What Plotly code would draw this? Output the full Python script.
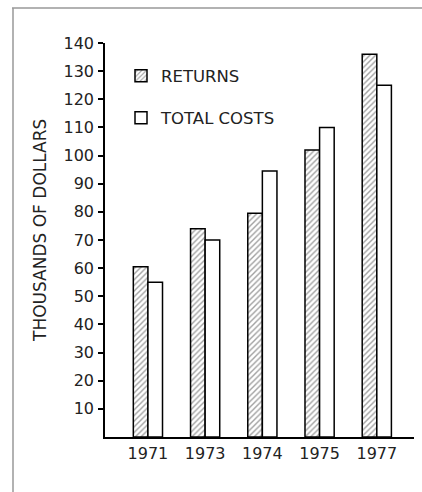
import plotly.graph_objects as go

years = ["1971", "1973", "1974", "1975", "1977"]
returns = [60.5, 74, 79.5, 102, 136]
total_costs = [55, 70, 94.5, 110, 125]
y_ticks = [10, 20, 30, 40, 50, 60, 70, 80, 90, 100, 110, 120, 130, 140]

FONT = "DejaVu Sans"
W, H = 422, 492
L, R, T, B = 105, 8, 43, 55

fig = go.Figure()
fig.add_trace(go.Bar(
    x=years, y=returns, name="RETURNS", legend="legend",
    marker=dict(color="white", line=dict(color="black", width=1.5),
                pattern=dict(shape="/", fgcolor="#444", bgcolor="white", size=4, solidity=0.35)),
))
fig.add_trace(go.Bar(
    x=years, y=total_costs, name="TOTAL COSTS", legend="legend2",
    marker=dict(color="white", line=dict(color="black", width=1.5)),
))

pw = W - L - R
ph = H - T - B
def px_x(p):
    return (p - L) / pw
def px_y(p):
    return (H - B - p) / ph

fig.update_layout(
    width=W, height=H,
    margin=dict(l=L, r=R, t=T, b=B),
    plot_bgcolor="white", paper_bgcolor="white",
    barmode="group", bargap=0.49, bargroupgap=0,
    font=dict(family=FONT, color="#222", size=15),
    showlegend=True,
    legend=dict(x=px_x(121), y=px_y(76), xanchor="left", yanchor="middle",
                bgcolor="rgba(0,0,0,0)", font=dict(size=16.5, family=FONT)),
    legend2=dict(x=px_x(121), y=px_y(118), xanchor="left", yanchor="middle",
                 bgcolor="rgba(0,0,0,0)", font=dict(size=16.5, family=FONT)),
    xaxis=dict(range=[-0.75, 4.65], showline=True, linecolor="black", linewidth=1.5,
               showgrid=False, ticks="", tickfont=dict(size=16, family=FONT), zeroline=False,
               ticklabelstandoff=1),
    yaxis=dict(range=[0, 140], showline=True, linecolor="black", linewidth=1.5,
               showgrid=False, ticks="outside", ticklen=5, tickwidth=1.5, tickcolor="black",
               tickvals=y_ticks, tickfont=dict(size=16, family=FONT), zeroline=False,
               ticklabelstandoff=1),
    annotations=[
        dict(text="THOUSANDS OF DOLLARS", xref="paper", yref="paper",
             x=px_x(40), y=px_y(231), textangle=-90, showarrow=False,
             xanchor="center", yanchor="middle", font=dict(size=17, family=FONT, color="#222")),
    ],
    shapes=[
        dict(type="line", xref="paper", yref="paper", x0=px_x(12), x1=px_x(422),
             y0=px_y(8), y1=px_y(8), line=dict(color="#999", width=1.5)),
        dict(type="line", xref="paper", yref="paper", x0=px_x(13), x1=px_x(13),
             y0=px_y(8), y1=px_y(492), line=dict(color="#999", width=1.5)),
    ],
)

fig.write_html("out.html", config={"displayModeBar": False},
               post_script="document.body.style.margin='0';")
